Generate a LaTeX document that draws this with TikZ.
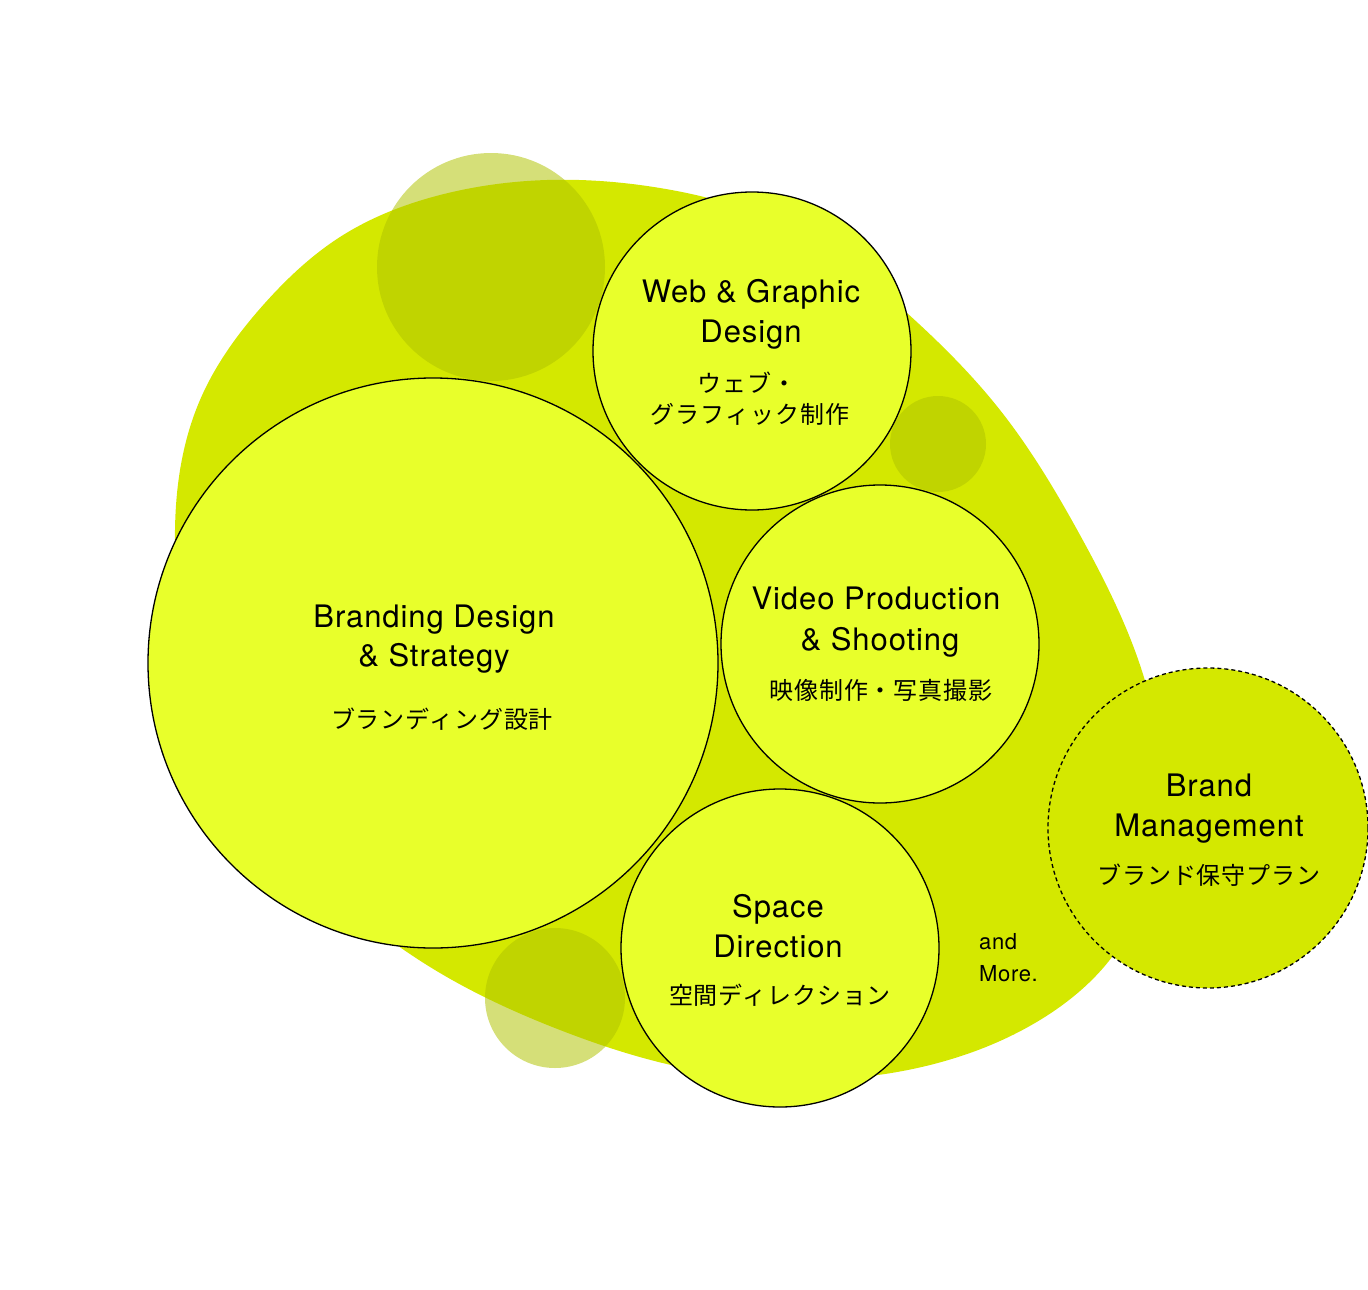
\documentclass[tikz,border=0pt]{standalone}
\usepackage{fontspec}
\usetikzlibrary{hobby}
\newfontfamily\enfont{TeX Gyre Heros}[LetterSpace=3]
\newfontfamily\jpfont{Noto Sans CJK JP}[LetterSpace=4]
\definecolor{blob}{RGB}{212,232,0}
\definecolor{inner}{RGB}{232,255,43}
\definecolor{shade}{RGB}{176,195,0}
\tikzset{
  svc/.style={circle, draw=black, line width=1.3pt, fill=inner, inner sep=0pt, minimum size=#1},
  extra/.style={circle, draw=black, line width=1.3pt, dash pattern=on 4pt off 3pt, fill=blob, inner sep=0pt, minimum size=#1},
  dot/.style={circle, draw=none, fill=shade, fill opacity=0.53, inner sep=0pt, minimum size=#1},
  en/.style={anchor=base, inner sep=0pt, font=\enfont\fontsize{31}{36}\selectfont},
  jp/.style={anchor=base, inner sep=0pt, font=\jpfont\fontsize{24}{28}\selectfont},
  small/.style={anchor=base west, inner sep=0pt, font=\enfont\fontsize{22}{26}\selectfont},
}
\begin{document}
\begin{tikzpicture}[x=1pt, y=-1pt]
\useasboundingbox (0,0) rectangle (1368,1290);
% background blob
\fill[blob, use Hobby shortcut, closed=true]
 (175,530) .. (200,400) .. (265,303) .. (340,237) .. (440,195) .. (547,180) ..
 (660,188) .. (790,228) .. (907,313) .. (1000,410) .. (1080,535) .. (1140,665) ..
 (1162,780) .. (1150,880) .. (1112,957) .. (1040,1020) .. (930,1065) .. (800,1080) ..
 (680,1067) .. (560,1030) .. (440,973) .. (320,880) .. (230,760);
% translucent dots
\node[dot=228pt] (d1) at (491,267) {};
\node[dot=96pt] (d2) at (938,444) {};
\node[dot=140pt] (d3) at (555,998) {};
% service circles
\node[svc=318pt] (web) at (752,351) {};
\node[svc=318pt] (video) at (880,644) {};
\node[svc=318pt] (space) at (780,948) {};
\node[svc=570pt] (brand) at (433,663) {};
\node[extra=320pt] (mgmt) at (1208,828) {};
% texts
\node[en] (b1) at (434,627) {Branding Design};
\node[en] (b2) at (434,666) {\& Strategy};
\node[jp] (b3) at (442,728) {ブランディング設計};
\node[en] (w1) at (751,302) {Web \& Graphic};
\node[en] (w2) at (751,342) {Design};
\node[jp] (w3) at (747,392) {ウェブ・};
\node[jp] (w4) at (750,423) {グラフィック制作};
\node[en] (v1) at (876,609) {Video Production};
\node[en] (v2) at (880,650) {\& Shooting};
\node[jp] (v3) at (881,699) {映像制作・写真撮影};
\node[en] (s1) at (778,917) {Space};
\node[en] (s2) at (778,957) {Direction};
\node[jp] (s3) at (780,1004) {空間ディレクション};
\node[en] (m1) at (1209,796) {Brand};
\node[en] (m2) at (1209,836) {Management};
\node[jp] (m3) at (1209,884) {ブランド保守プラン};
\node[small] (a1) at (979,949) {and};
\node[small] (a2) at (979,981) {More.};
\end{tikzpicture}
\end{document}
